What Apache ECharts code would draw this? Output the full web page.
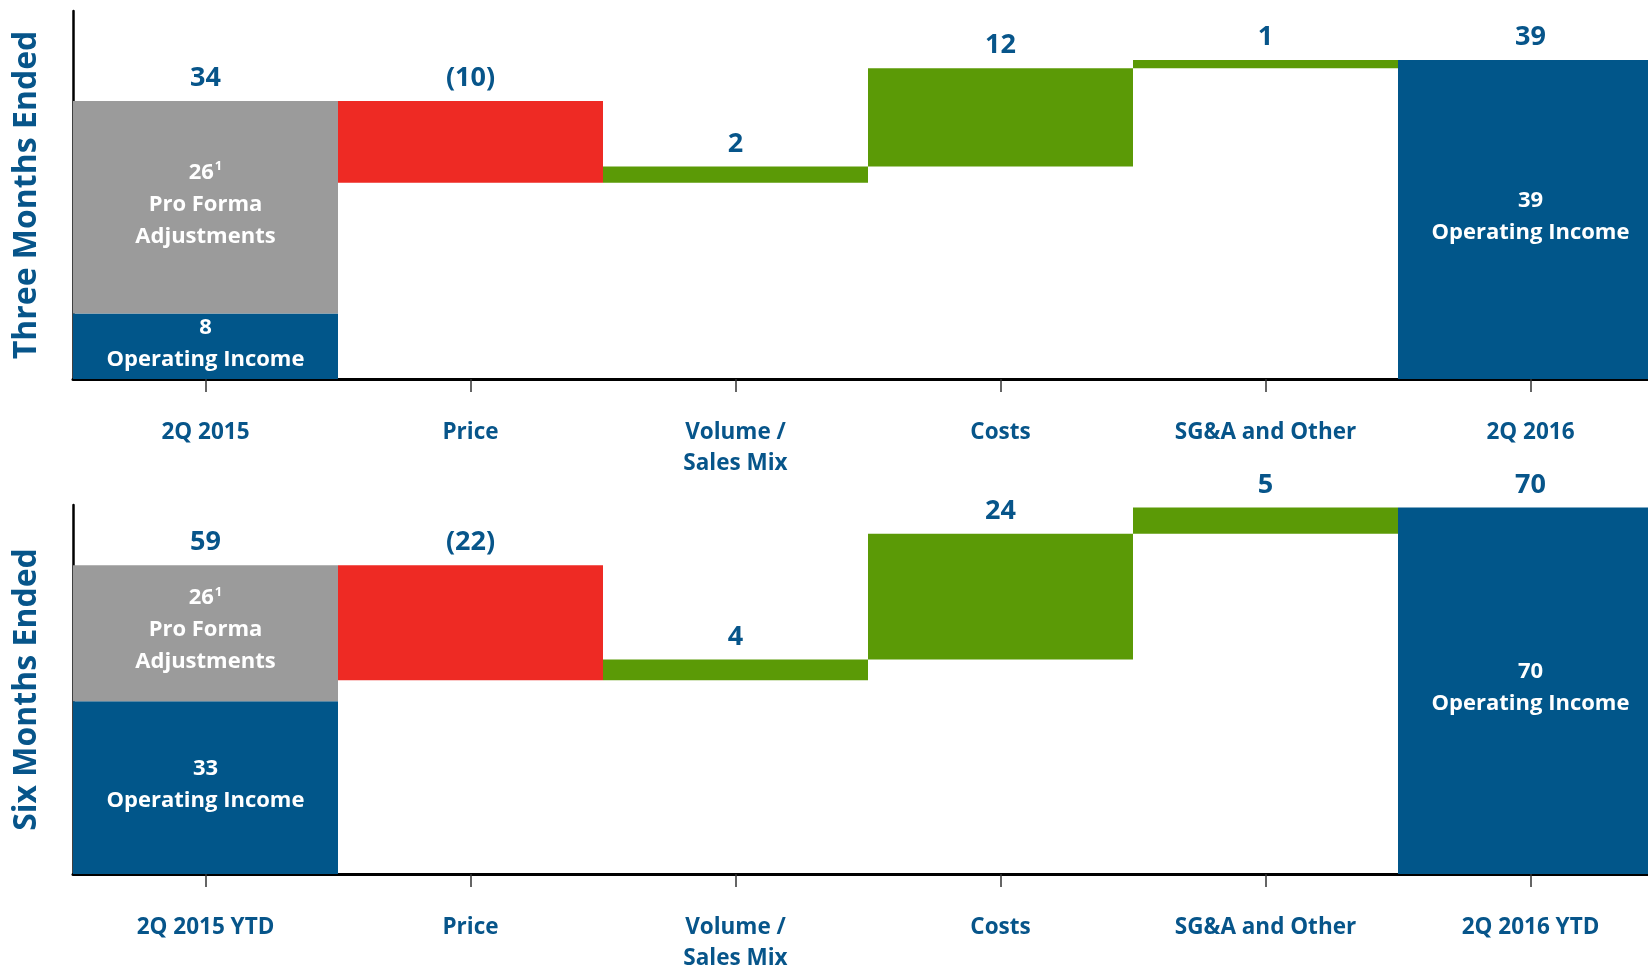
<!DOCTYPE html>
<html>
<head>
<meta charset="utf-8">
<script src="https://cdn.jsdelivr.net/npm/echarts@6/dist/echarts.min.js"></script>
<style>
  html, body { margin: 0; padding: 0; background: #fff; }
  #chart { width: 1648px; height: 970px; }
</style>
</head>
<body>
<div id="chart"></div>
<script>
// === DATA ===
const threeCats = ['2Q 2015', 'Price', 'Volume /\nSales Mix', 'Costs', 'SG&A and Other', '2Q 2016'];
const threeOpStart = 8;
const threeProForma = 26;
const threeSteps = [-10, 2, 12, 1];
const threeOpEnd = 39;

const sixCats = ['2Q 2015 YTD', 'Price', 'Volume /\nSales Mix', 'Costs', 'SG&A and Other', '2Q 2016 YTD'];
const sixOpStart = 33;
const sixProForma = 26;
const sixSteps = [-22, 4, 24, 5];
const sixOpEnd = 70;

const blue = '#01568a';
const gray = '#9b9b9b';
const red = '#ee2a24';
const green = '#5b9a06';
const textBlue = '#07558a';
const font = 'Open Sans';

function fmt(v) {
    return v < 0 ? '(' + (-v) + ')' : String(v);
}

// builds the stacked waterfall series for one grid
function waterfall(opStart, proForma, steps, opEnd, axis) {
    const base = [0], reds = ['-'], greens = ['-'];
    const blues = [opStart], grays = [proForma];
    const tops = [opStart + proForma], labels = [fmt(opStart + proForma)];
    let run = opStart + proForma;
    steps.forEach(s => {
        base.push(s < 0 ? run + s : run);
        reds.push(s < 0 ? -s : '-');
        greens.push(s > 0 ? s : '-');
        blues.push('-');
        grays.push('-');
        tops.push(Math.max(run, run + s));
        labels.push(fmt(s));
        run += s;
    });
    base.push(0); reds.push('-'); greens.push('-'); grays.push('-');
    blues.push(opEnd);
    tops.push(opEnd);
    labels.push(fmt(opEnd));

    const common = {
        type: 'bar', stack: 'w' + axis, xAxisIndex: axis, yAxisIndex: axis,
        barCategoryGap: '0%', silent: true
    };
    const inLabel = {
        show: true, position: 'inside', color: '#fff', offset: [0, -3],
        fontFamily: font, fontWeight: 'bold', fontSize: 22, lineHeight: 32
    };
    return [
        Object.assign({}, common, { data: base, itemStyle: { color: 'transparent' } }),
        Object.assign({}, common, {
            data: blues, itemStyle: { color: blue },
            label: Object.assign({}, inLabel, { formatter: p => p.value + '\nOperating Income' })
        }),
        Object.assign({}, common, {
            data: grays, itemStyle: { color: gray },
            label: Object.assign({}, inLabel, {
                formatter: p => '{v|' + p.value + '}{s|1}\nPro Forma\nAdjustments',
                rich: {
                    v: { color: '#fff', fontFamily: font, fontWeight: 'bold', fontSize: 22, lineHeight: 32 },
                    s: { color: '#fff', fontFamily: font, fontWeight: 'bold', fontSize: 13, lineHeight: 32, padding: [0, 0, 12, 1] }
                }
            })
        }),
        Object.assign({}, common, { data: reds, itemStyle: { color: red } }),
        Object.assign({}, common, { data: greens, itemStyle: { color: green } }),
        {
            // value labels above each column
            type: 'scatter', xAxisIndex: axis, yAxisIndex: axis, data: tops,
            symbolSize: 0, silent: true, z: 5,
            itemStyle: { opacity: 1 },
            label: {
                show: true, position: 'top', distance: 9,
                formatter: p => labels[p.dataIndex],
                color: textBlue, fontFamily: font, fontWeight: 'bold', fontSize: 27
            }
        }
    ];
}

const chart = echarts.init(document.getElementById('chart'));

function xAxisOf(cats, idx) {
    return {
        type: 'category', gridIndex: idx, data: cats,
        axisLine: { lineStyle: { color: '#000', width: 3 } },
        axisTick: { show: true, alignWithLabel: true, length: 13, lineStyle: { color: '#333', width: 1.5 } },
        axisLabel: {
            interval: 0, margin: 38, color: textBlue,
            fontFamily: font, fontWeight: 'bold', fontSize: 22.5, lineHeight: 31
        }
    };
}

function yAxisOf(name, max, idx) {
    return {
        type: 'value', gridIndex: idx, min: 0, max: max,
        name: name, nameLocation: 'middle', nameRotate: 90, nameGap: 30,
        nameTextStyle: { color: textBlue, fontFamily: font, fontWeight: 'bold', fontSize: 32 },
        axisLine: { show: true, lineStyle: { color: '#000', width: 2.5 } },
        axisTick: { show: false },
        axisLabel: { show: false },
        splitLine: { show: false }
    };
}

const option = {
    animation: false,
    backgroundColor: '#fff',
    grid: [
        { left: 73, top: 11, width: 1590, height: 368, outerBoundsMode: 'none' },
        { left: 73, top: 505, width: 1590, height: 369, outerBoundsMode: 'none' }
    ],
    xAxis: [xAxisOf(threeCats, 0), xAxisOf(sixCats, 1)],
    yAxis: [yAxisOf('Three Months Ended', 45, 0), yAxisOf('Six Months Ended', 70.5, 1)],
    series: [].concat(
        waterfall(threeOpStart, threeProForma, threeSteps, threeOpEnd, 0),
        waterfall(sixOpStart, sixProForma, sixSteps, sixOpEnd, 1)
    )
};
chart.setOption(option);
window.addEventListener('resize', () => chart.resize());
</script>
</body>
</html>
